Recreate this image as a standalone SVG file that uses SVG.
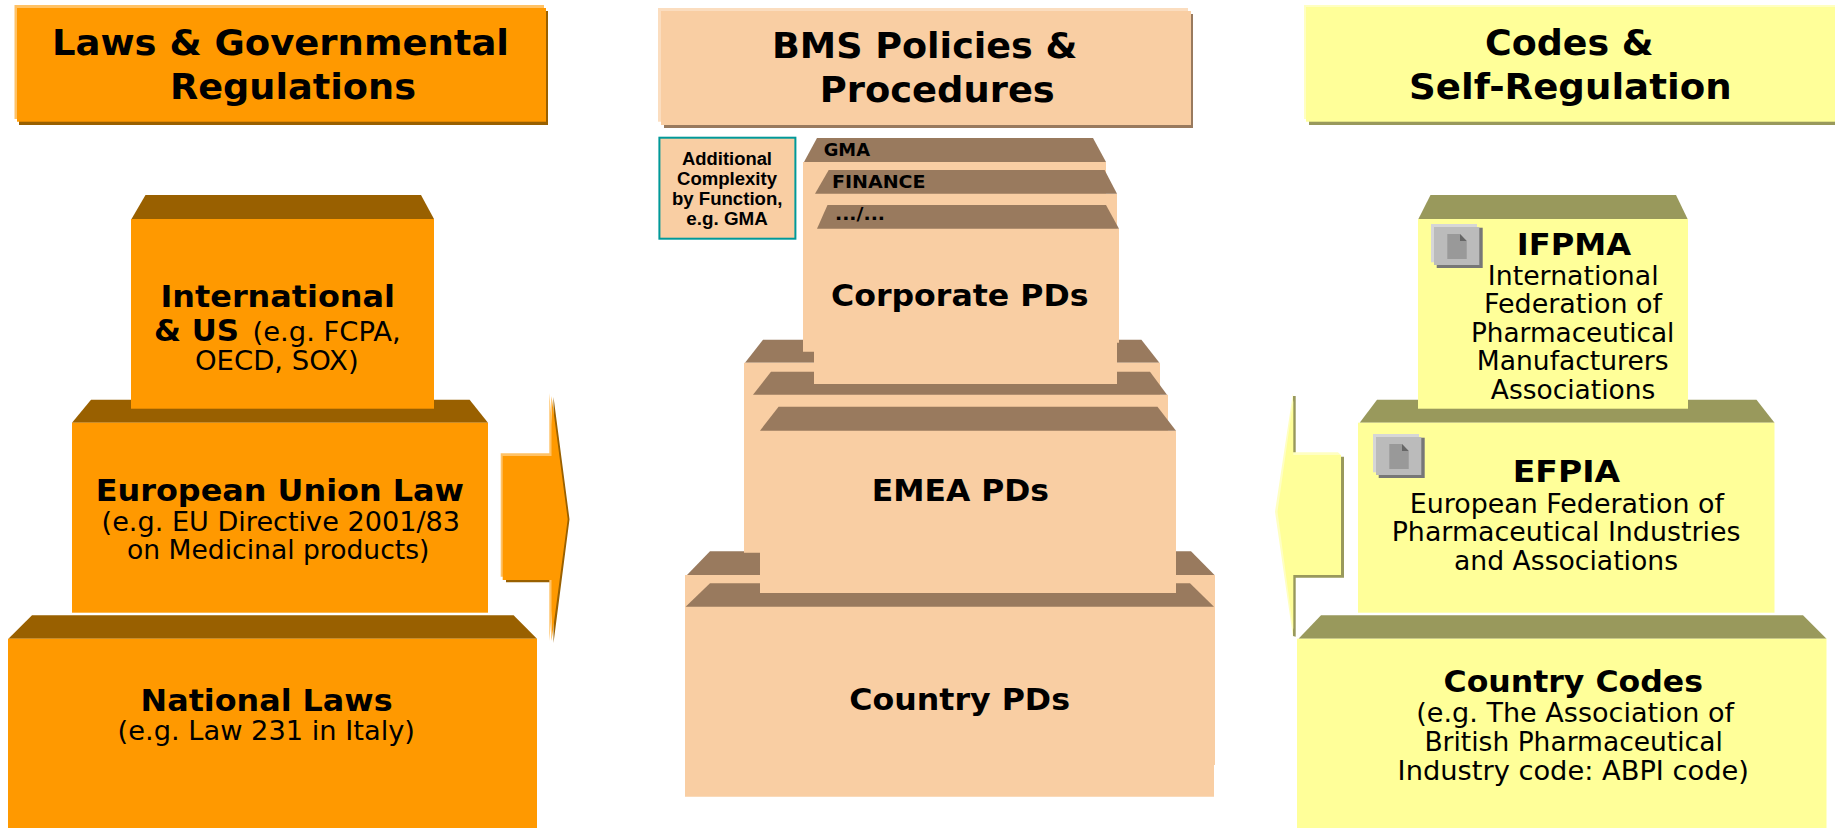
<svg xmlns="http://www.w3.org/2000/svg" width="1835" height="828" viewBox="0 0 1835 828">
<style>
text{font-family:"DejaVu Sans","Liberation Sans",sans-serif;fill:#000}
.h{font-size:36px;font-weight:700}
.b{font-size:31px;font-weight:700}
.r{font-size:26px}
.s{font-size:17px;font-weight:700}
.a{font-family:"Liberation Sans",Arial,sans-serif;font-size:18px;font-weight:700}
.of{fill:#FF9900}.od{fill:#996000}.ol{fill:#FFC266}
.pf{fill:#F9CEA3}.pd{fill:#997A5E}.pl{fill:#FBDDBF}
.yf{fill:#FFFF99}.yd{fill:#99995C}.yl{fill:#FFFFC2}
</style>
<defs>
<g id="doc-icon">
<rect x="5.700" y="3.700" width="46" height="40.300" fill="#777"/>
<rect x="0" y="0" width="46" height="38.300" fill="#d6d6d6"/>
<rect x="3" y="3" width="45.300" height="38" fill="#bbb"/>
<polygon points="16.300,10 29,10 35.700,17 35.700,35 16.300,35" fill="#999"/>
<polygon points="29,10 35.700,17 29,17" fill="#666"/>
</g>
</defs>
<rect width="1835" height="828" fill="#fff"/>

<g id="connectors">
<g id="arrow-right">
<polygon class="od" points="506,460 553.500,460 553.500,397 569.500,519.300 553.500,643 553.500,582.300 506,582.300"/>
<polygon class="ol" points="500.700,453.300 549.300,453.300 549.300,393 560,519 549.300,641 549.300,576.700 500.700,576.700"/>
<polygon class="of" points="502.700,456 551.500,456 551.500,396 567.700,519.300 551.500,641 551.500,580 502.700,580"/>
</g>
<g id="arrow-left">
<polygon class="yd" points="1293,396 1295.700,396 1295.700,456.700 1344,456.700 1344,577.700 1295.700,577.700 1295.700,636.700 1293,636"/>
<polygon class="yl" points="1293,393 1293,452.300 1338,452.300 1341,455 1341,575 1293,575 1293,637 1275,511.700"/>
<polygon class="yf" points="1293.300,400 1293.300,455 1341,455 1341,575 1293.300,575 1293.300,630 1277.500,511.700"/>
</g>
</g>

<g id="header-laws">
<rect class="od" x="19" y="11" width="529" height="114"/>
<rect class="ol" x="14.500" y="5" width="529.500" height="114"/>
<rect class="of" x="17" y="8" width="529" height="113.700"/>
<text class="h" x="52" y="55" textLength="457" lengthAdjust="spacingAndGlyphs">Laws &amp; Governmental</text>
<text class="h" x="170" y="99.300" textLength="246" lengthAdjust="spacingAndGlyphs">Regulations</text>
</g>
<g id="header-bms">
<rect class="pd" x="664" y="14" width="529" height="114"/>
<rect class="pl" x="658" y="8" width="530" height="113.700"/>
<rect class="pf" x="661" y="11" width="530" height="114"/>
<text class="h" x="772" y="57.700" textLength="305.400" lengthAdjust="spacingAndGlyphs">BMS Policies &amp;</text>
<text class="h" x="819.800" y="102.300" textLength="235" lengthAdjust="spacingAndGlyphs">Procedures</text>
</g>
<g id="header-codes">
<rect class="yd" x="1309" y="11" width="526" height="114"/>
<rect class="yl" x="1304" y="5" width="531" height="114"/>
<rect class="yf" x="1306" y="7" width="529" height="114.700"/>
<text class="h" x="1485" y="55" textLength="168.500" lengthAdjust="spacingAndGlyphs">Codes &amp;</text>
<text class="h" x="1409" y="99.300" textLength="322.600" lengthAdjust="spacingAndGlyphs">Self-Regulation</text>
</g>

<g id="national-laws">
<polygon class="od" points="32,615.300 513.600,615.300 537,638.700 8.400,638.700"/>
<rect class="of" x="8" y="638.700" width="529" height="189.300"/>
<text class="b" x="140.600" y="710.700" textLength="252" lengthAdjust="spacingAndGlyphs">National Laws</text>
<text class="r" x="117.600" y="740" textLength="297.400" lengthAdjust="spacingAndGlyphs">(e.g. Law 231 in Italy)</text>
</g>
<g id="eu-law">
<polygon class="od" points="91,399.700 469.600,399.700 488,422.700 72,422.700"/>
<rect class="of" x="72" y="422.700" width="416" height="190"/>
<text class="b" x="95.800" y="500.700" textLength="368.200" lengthAdjust="spacingAndGlyphs">European Union Law</text>
<text class="r" x="101.600" y="531.300" textLength="358.400" lengthAdjust="spacingAndGlyphs">(e.g. EU Directive 2001/83</text>
<text class="r" x="127" y="559" textLength="302.400" lengthAdjust="spacingAndGlyphs">on Medicinal products)</text>
</g>
<g id="international-us">
<polygon class="od" points="145.500,195 421,195 434,219 131.500,219"/>
<rect class="of" x="131" y="219" width="303" height="189.700"/>
<text class="b" x="160.500" y="306.700" textLength="234.500" lengthAdjust="spacingAndGlyphs">International</text>
<text class="b" x="154" y="341" textLength="85" lengthAdjust="spacingAndGlyphs">&amp; US</text>
<text class="r" x="252.500" y="341" textLength="148.200" lengthAdjust="spacingAndGlyphs">(e.g. FCPA,</text>
<text class="r" x="195" y="370" textLength="163.600" lengthAdjust="spacingAndGlyphs">OECD, SOX)</text>
</g>

<g id="country-pds">
<polygon class="pd" points="710,551.300 1191,551.300 1214.500,575 687,575"/>
<polygon class="pf" points="685,575 1215,575 1215,765 1214,765 1214,796.700 685,796.700"/>
<polygon class="pd" points="710,583.300 1190,583.300 1214,606.700 685.600,606.700"/>
<text class="b" x="849.200" y="710" textLength="220.800" lengthAdjust="spacingAndGlyphs">Country PDs</text>
</g>
<g id="emea-pds">
<polygon class="pd" points="763,339.700 1141.400,339.700 1159.400,362.700 745,362.700"/>
<polygon class="pf" points="744,362.700 1160,362.700 1160,394.700 1168,394.700 1168,430.700 1176,430.700 1176,593 760,593 760,552.700 744,552.700"/>
<polygon class="pd" points="771,371.700 1150,371.700 1167,394.700 753,394.700"/>
<polygon class="pd" points="778.600,406.700 1157.500,406.700 1176,430.700 760,430.700"/>
<text class="b" x="871.800" y="500.700" textLength="177.200" lengthAdjust="spacingAndGlyphs">EMEA PDs</text>
</g>
<g id="corporate-pds">
<polygon class="pf" points="803,162 1106,162 1106,193.700 1117,193.700 1117,228.700 1119,228.700 1119,342.700 1117,342.700 1117,384 814,384 814,351.700 803,351.700"/>
<polygon class="pd" points="817,138 1093,138 1106,162 804,162"/>
<polygon class="pd" points="828.700,170 1104.600,170 1117,193.700 815,193.700"/>
<polygon class="pd" points="827.500,205 1106,205 1119,228.700 817,228.700"/>
<text class="s" x="823.700" y="155.700" textLength="46.300" lengthAdjust="spacingAndGlyphs">GMA</text>
<text class="s" x="832" y="188.300" textLength="93.500" lengthAdjust="spacingAndGlyphs">FINANCE</text>
<text class="s" x="835" y="220" textLength="50" lengthAdjust="spacingAndGlyphs">.../...</text>
<text class="b" x="831" y="306" textLength="257.500" lengthAdjust="spacingAndGlyphs">Corporate PDs</text>
</g>
<g id="additional-complexity">
<rect class="pf" x="659.400" y="137.700" width="136" height="101" stroke="#009999" stroke-width="2"/>
<text class="a" x="682" y="165" textLength="90" lengthAdjust="spacingAndGlyphs">Additional</text>
<text class="a" x="677" y="185" textLength="100" lengthAdjust="spacingAndGlyphs">Complexity</text>
<text class="a" x="672" y="205" textLength="110.400" lengthAdjust="spacingAndGlyphs">by Function,</text>
<text class="a" x="686.300" y="225" textLength="81.500" lengthAdjust="spacingAndGlyphs">e.g. GMA</text>
</g>

<g id="country-codes">
<polygon class="yd" points="1321,615.300 1803,615.300 1826.500,638.700 1298.500,638.700"/>
<rect class="yf" x="1297" y="638.700" width="529.500" height="189.300"/>
<text class="b" x="1443.500" y="692.300" textLength="259.500" lengthAdjust="spacingAndGlyphs">Country Codes</text>
<text class="r" x="1416.300" y="721.700" textLength="317.700" lengthAdjust="spacingAndGlyphs">(e.g. The Association of</text>
<text class="r" x="1424.400" y="750.700" textLength="298.400" lengthAdjust="spacingAndGlyphs">British Pharmaceutical</text>
<text class="r" x="1397.600" y="780" textLength="351.400" lengthAdjust="spacingAndGlyphs">Industry code: ABPI code)</text>
</g>
<g id="efpia">
<polygon class="yd" points="1377,399.700 1756.500,399.700 1774.500,422.700 1359.700,422.700"/>
<rect class="yf" x="1358" y="422.700" width="416.500" height="190"/>
<use href="#doc-icon" x="1373" y="434"/>
<text class="b" x="1512.800" y="482.300" textLength="107.200" lengthAdjust="spacingAndGlyphs">EFPIA</text>
<text class="r" x="1409.700" y="512.700" textLength="314.300" lengthAdjust="spacingAndGlyphs">European Federation of</text>
<text class="r" x="1391.700" y="540.700" textLength="348.700" lengthAdjust="spacingAndGlyphs">Pharmaceutical Industries</text>
<text class="r" x="1454" y="570" textLength="224" lengthAdjust="spacingAndGlyphs">and Associations</text>
</g>
<g id="ifpma">
<polygon class="yd" points="1430.500,195 1676,195 1687.600,219 1418.400,219"/>
<rect class="yf" x="1418" y="219" width="270" height="189.700"/>
<use href="#doc-icon" x="1431" y="224"/>
<text class="b" x="1516.800" y="255" textLength="114.200" lengthAdjust="spacingAndGlyphs">IFPMA</text>
<text class="r" x="1487.800" y="285" textLength="170.800" lengthAdjust="spacingAndGlyphs">International</text>
<text class="r" x="1484" y="313.300" textLength="178" lengthAdjust="spacingAndGlyphs">Federation of</text>
<text class="r" x="1471" y="341.700" textLength="203.400" lengthAdjust="spacingAndGlyphs">Pharmaceutical</text>
<text class="r" x="1476.800" y="370.300" textLength="191.700" lengthAdjust="spacingAndGlyphs">Manufacturers</text>
<text class="r" x="1490.800" y="399.300" textLength="164.500" lengthAdjust="spacingAndGlyphs">Associations</text>
</g>
</svg>
